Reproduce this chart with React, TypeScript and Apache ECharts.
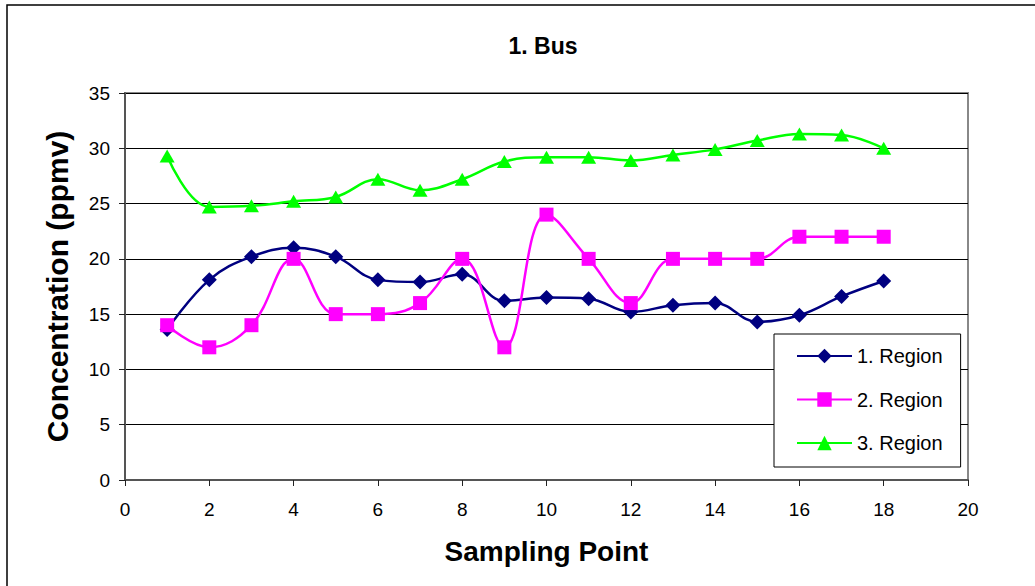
import React, { useEffect, useRef } from "react";
import * as echarts from "echarts";

// Sampling points along the route
const samplingPoints = [1, 2, 3, 4, 5, 6, 7, 8, 9, 10, 11, 12, 13, 14, 15, 16, 17, 18];

// Concentration (ppmv) per region
const region1 = [13.6, 18.1, 20.2, 21.0, 20.2, 18.1, 17.9, 18.6, 16.2, 16.5, 16.4, 15.2, 15.8, 16.0, 14.3, 14.9, 16.6, 18.0];
const region2 = [14, 12, 14, 20, 15, 15, 16, 20, 12, 24, 20, 16, 20, 20, 20, 22, 22, 22];
const region3 = [29.3, 24.7, 24.8, 25.2, 25.6, 27.2, 26.2, 27.2, 28.8, 29.2, 29.2, 28.9, 29.4, 29.9, 30.7, 31.3, 31.2, 30.0];

const seriesNames = ["1. Region", "2. Region", "3. Region"];

const FONT = "'Liberation Sans', Arial, Helvetica, sans-serif";

const pairs = (ys: number[]) => samplingPoints.map((x, i) => [x, ys[i]]);

export default function App() {
  const ref = useRef<HTMLDivElement>(null);

  useEffect(() => {
    document.body.style.margin = "0";
    const chart = echarts.init(ref.current!, undefined, { renderer: "svg" });
    chart.setOption({
      animation: false,
      backgroundColor: "#ffffff",
      textStyle: { fontFamily: FONT },
      title: {
        text: "1. Bus",
        left: 538,
        top: 29,
        textAlign: "center",
        textStyle: { fontFamily: FONT, fontSize: 23, fontWeight: "bold", color: "#000" },
      },
      graphic: [
        {
          type: "rect",
          shape: { x: 7, y: 5, width: 1100, height: 700 },
          style: { fill: "none", stroke: "#000", lineWidth: 1.5 },
          z: 100,
        },
      ],
      grid: {
        left: 125,
        right: 67,
        top: 93,
        bottom: 106,
        show: true,
        borderColor: "#888",
        borderWidth: 2,
        backgroundColor: "transparent",
      },
      legend: {
        orient: "vertical",
        left: 774,
        top: 334,
        padding: [12, 18, 14, 22],
        itemGap: 23.5,
        itemWidth: 55,
        itemHeight: 18,
        backgroundColor: "#fff",
        borderColor: "#000",
        borderWidth: 1,
        data: seriesNames,
        textStyle: { fontFamily: FONT, fontSize: 20, color: "#000" },
        z: 10,
      },
      xAxis: {
        type: "value",
        min: 0,
        max: 20,
        interval: 2,
        name: "Sampling Point",
        nameLocation: "middle",
        nameGap: 57,
        nameTextStyle: { fontFamily: FONT, fontSize: 28, fontWeight: "bold", color: "#000" },
        axisLine: { show: true, onZero: false, lineStyle: { color: "#555", width: 2 } },
        axisTick: { show: true, inside: false, length: 6, lineStyle: { color: "#222", width: 1 } },
        axisLabel: { margin: 20, fontFamily: FONT, fontSize: 19, color: "#000" },
        splitLine: { show: false },
      },
      yAxis: {
        type: "value",
        min: 0,
        max: 35,
        interval: 5,
        name: "Concentration (ppmv)",
        nameLocation: "middle",
        nameGap: 53,
        nameTextStyle: { fontFamily: FONT, fontSize: 30, fontWeight: "bold", color: "#000" },
        axisLine: { show: true, onZero: false, lineStyle: { color: "#555", width: 2 } },
        axisTick: { show: true, inside: false, length: 6, lineStyle: { color: "#222", width: 1 } },
        axisLabel: { margin: 15, fontFamily: FONT, fontSize: 19, color: "#000" },
        splitLine: { show: true, lineStyle: { color: "#000", width: 1 } },
      },
      series: [
        {
          name: seriesNames[0],
          type: "line",
          data: pairs(region1),
          smooth: 0.4,
          symbol: "diamond",
          symbolSize: 15,
          lineStyle: { color: "#000080", width: 2.5 },
          itemStyle: { color: "#000080" },
          z: 3,
        },
        {
          name: seriesNames[1],
          type: "line",
          data: pairs(region2),
          smooth: 0.4,
          symbol: "rect",
          symbolSize: 14,
          lineStyle: { color: "#ff00ff", width: 2.5 },
          itemStyle: { color: "#ff00ff" },
          z: 4,
        },
        {
          name: seriesNames[2],
          type: "line",
          data: pairs(region3),
          smooth: 0.4,
          symbol: "triangle",
          symbolSize: [15, 13],
          lineStyle: { color: "#00ff00", width: 2.5 },
          itemStyle: { color: "#00ff00" },
          z: 5,
        },
      ],
    });
    return () => chart.dispose();
  }, []);

  return (
    <div
      ref={ref}
      style={{ position: "absolute", left: 0, top: 0, width: 1035, height: 586 }}
    />
  );
}
